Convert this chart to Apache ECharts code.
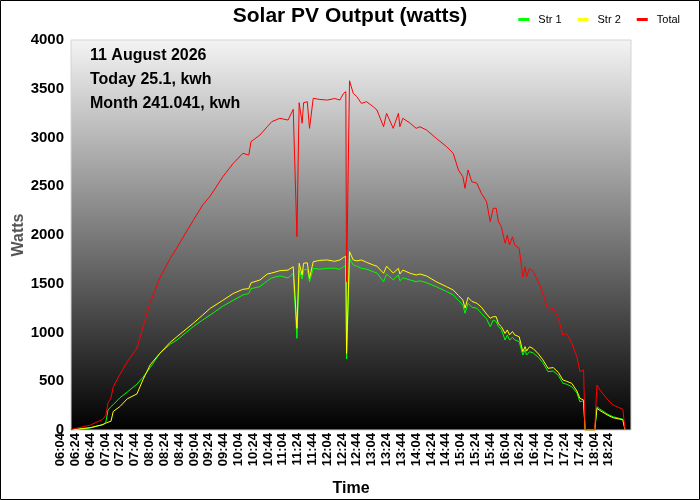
<!DOCTYPE html>
<html>
<head>
<meta charset="utf-8">
<script src="https://cdn.jsdelivr.net/npm/echarts@6/dist/echarts.min.js"></script>
<style>
html, body { margin: 0; padding: 0; background: #fff; overflow: hidden; }
#chart { width: 700px; height: 500px; }
</style>
</head>
<body>
<div id="chart"></div>
<script>
// day start, the x axis counts minutes from here
var startTime = '06:04';
var endTime = '18:40';

var times = ['06:04','06:30','06:47','06:51','06:54','06:58','07:01','07:10','07:20','07:33',
  '07:41','07:51','08:04','08:18','08:27','08:49','09:02','09:12','09:29','09:43',
  '09:56','10:04','10:07','10:19','10:29','10:35','10:46','10:57','11:04','11:06',
  '11:09','11:12','11:16','11:18','11:23','11:26','11:31','11:40','11:50','12:00',
  '12:07','12:12','12:15','12:16','12:20','12:25','12:30','12:36','12:43','12:52',
  '12:57','13:06','13:10','13:19','13:26','13:28','13:32','13:42','13:50','13:55',
  '14:04','14:17','14:31','14:40','14:47','14:53','14:56','15:00','15:05','15:12',
  '15:18','15:25','15:30','15:34','15:38','15:41','15:45','15:50','15:53','15:56',
  '16:00','16:03','16:09','16:14','16:17','16:19','16:23','16:28','16:35','16:41',
  '16:48','16:55','17:02','17:08','17:13','17:20','17:27','17:31','17:36','17:38',
  '17:51','17:54','17:58','18:09','18:16','18:29','18:32'];

var str1 = [0,20,55,80,205,240,260,330,390,470,
  540,640,787,880,923,1060,1130,1180,1270,1330,
  1385,1400,1450,1470,1530,1560,1580,1560,1607,1620,
  940,1641,1550,1641,1650,1521,1658,1650,1658,1660,
  1648,1675,1680,728,1761,1692,1680,1658,1650,1624,
  1610,1521,1600,1540,1590,1530,1560,1538,1521,1530,
  1510,1470,1420,1385,1330,1280,1197,1300,1260,1248,
  1197,1140,1060,1128,1111,1060,1030,923,974,923,
  950,925,906,769,820,769,803,790,745,690,
  598,605,560,479,470,444,380,290,300,0,
  0,239,215,160,135,110,0];

var str2 = [0,25,55,70,80,90,190,240,320,370,
  513,670,787,900,957,1094,1180,1248,1330,1400,
  1443,1450,1510,1538,1600,1610,1634,1640,1675,1690,
  1043,1710,1590,1710,1715,1556,1726,1740,1744,1730,
  1744,1771,1780,786,1829,1744,1735,1744,1720,1692,
  1680,1607,1680,1610,1658,1600,1640,1607,1590,1600,
  1580,1521,1470,1436,1380,1333,1250,1360,1320,1299,
  1260,1190,1146,1162,1162,1090,1060,990,1026,975,
  1010,975,957,803,855,810,854,835,780,720,
  633,640,590,513,500,479,400,325,308,0,
  0,222,200,150,125,105,0];

var total = [5,50,110,150,280,330,444,570,700,840,
  1050,1310,1560,1760,1870,2150,2310,2400,2598,2735,
  2838,2820,2957,3025,3111,3162,3197,3179,3289,3300,
  1982,3357,3146,3357,3367,3094,3402,3390,3384,3400,
  3384,3453,3470,1521,3582,3453,3418,3350,3367,3316,
  3282,3111,3248,3094,3248,3111,3197,3146,3094,3110,
  3077,2992,2906,2838,2667,2598,2479,2667,2547,2530,
  2427,2342,2136,2274,2274,2136,2085,1915,2000,1897,
  1982,1897,1863,1572,1675,1572,1658,1624,1521,1402,
  1231,1248,1146,974,992,889,752,598,615,0,
  0,461,410,308,256,212,0];

var infoLines = ['11 August 2026', 'Today 25.1, kwh', 'Month 241.041, kwh'];

var font = 'Liberation Sans, Arial, sans-serif';

function clock(t) {
  var p = t.split(':');
  return parseInt(p[0], 10) * 60 + parseInt(p[1], 10);
}
function pad(n) { return (n < 10 ? '0' : '') + n; }
function label(v) {
  var m = clock(startTime) + v;
  return pad(Math.floor(m / 60)) + ':' + pad(m % 60);
}
function pairs(vals) {
  return vals.map(function (v, i) { return [clock(times[i]) - clock(startTime), v]; });
}

var span = clock(endTime) - clock(startTime);
var myChart = echarts.init(document.getElementById('chart'));

var texts = infoLines.map(function (t, i) {
  return {
    type: 'text', left: 90, top: 48 + i * 24, z: 10,
    style: { text: t, font: 'bold 16px ' + font, fill: '#000' }
  };
});

myChart.setOption({
  animation: false,
  backgroundColor: '#fff',
  title: {
    text: 'Solar PV Output (watts)', left: 'center', top: 1,
    textStyle: { fontFamily: font, fontSize: 21, fontWeight: 'bold', color: '#000' }
  },
  legend: {
    data: ['Str 1', 'Str 2', 'Total'],
    right: 15, top: 9, icon: 'rect', itemWidth: 11, itemHeight: 3, itemGap: 16,
    textStyle: { fontFamily: font, fontSize: 11, color: '#000', padding: [0, 0, 0, 4] }
  },
  grid: [{
    left: 71, right: 69, top: 40, bottom: 70, outerBoundsMode: 'none',
    show: true, borderColor: '#d4d4d4', borderWidth: 1,
    backgroundColor: new echarts.graphic.LinearGradient(0, 0, 0, 1, [
      { offset: 0, color: '#f4f4f4' },
      { offset: 1, color: '#000000' }
    ])
  }, {
    // the time labels sit a little left of the plotted points, as in the original
    left: 60.6, right: 79.4, top: 40, bottom: 70, outerBoundsMode: 'none', show: false
  }],
  xAxis: [{
    type: 'value', min: 0, max: span, interval: 20,
    name: 'Time', nameLocation: 'middle', nameGap: 51, nameMoveOverlap: false,
    nameTextStyle: { fontFamily: font, fontSize: 16, fontWeight: 'bold', color: '#000' },
    axisLine: { show: false }, axisTick: { show: false }, splitLine: { show: false },
    axisLabel: { show: false }
  }, {
    gridIndex: 1, type: 'value', min: 0, max: span, interval: 20,
    axisLine: { show: false }, axisTick: { show: false }, splitLine: { show: false },
    axisLabel: {
      rotate: 90, margin: 3, showMaxLabel: false,
      fontFamily: font, fontSize: 13, fontWeight: 'bold', color: '#000',
      formatter: label
    }
  }],
  yAxis: [{
    type: 'value', min: 0, max: 4000, interval: 500,
    name: 'Watts', nameLocation: 'middle', nameGap: 44, nameMoveOverlap: false,
    nameTextStyle: { fontFamily: font, fontSize: 16, fontWeight: 'bold', color: '#555' },
    axisLine: { show: false }, axisTick: { show: false }, splitLine: { show: false },
    axisLabel: {
      margin: 7, fontFamily: font, fontSize: 15, fontWeight: 'bold', color: '#000',
      formatter: function (v) { return String(v); }
    }
  }, {
    gridIndex: 1, type: 'value', min: 0, max: 4000, show: false
  }],
  series: [
    { name: 'Str 1', type: 'line', data: pairs(str1), showSymbol: false, color: '#00ff00',
      lineStyle: { width: 1 } },
    { name: 'Str 2', type: 'line', data: pairs(str2), showSymbol: false, color: '#ffff00',
      lineStyle: { width: 1 } },
    { name: 'Total', type: 'line', data: pairs(total), showSymbol: false, color: '#ff0000',
      lineStyle: { width: 1 } }
  ],
  graphic: [
    { type: 'rect', z: 20, silent: true,
      shape: { x: 0.5, y: 0.5, width: 699, height: 499 },
      style: { fill: 'none', stroke: '#000', lineWidth: 1 } }
  ].concat(texts)
});
</script>
</body>
</html>
